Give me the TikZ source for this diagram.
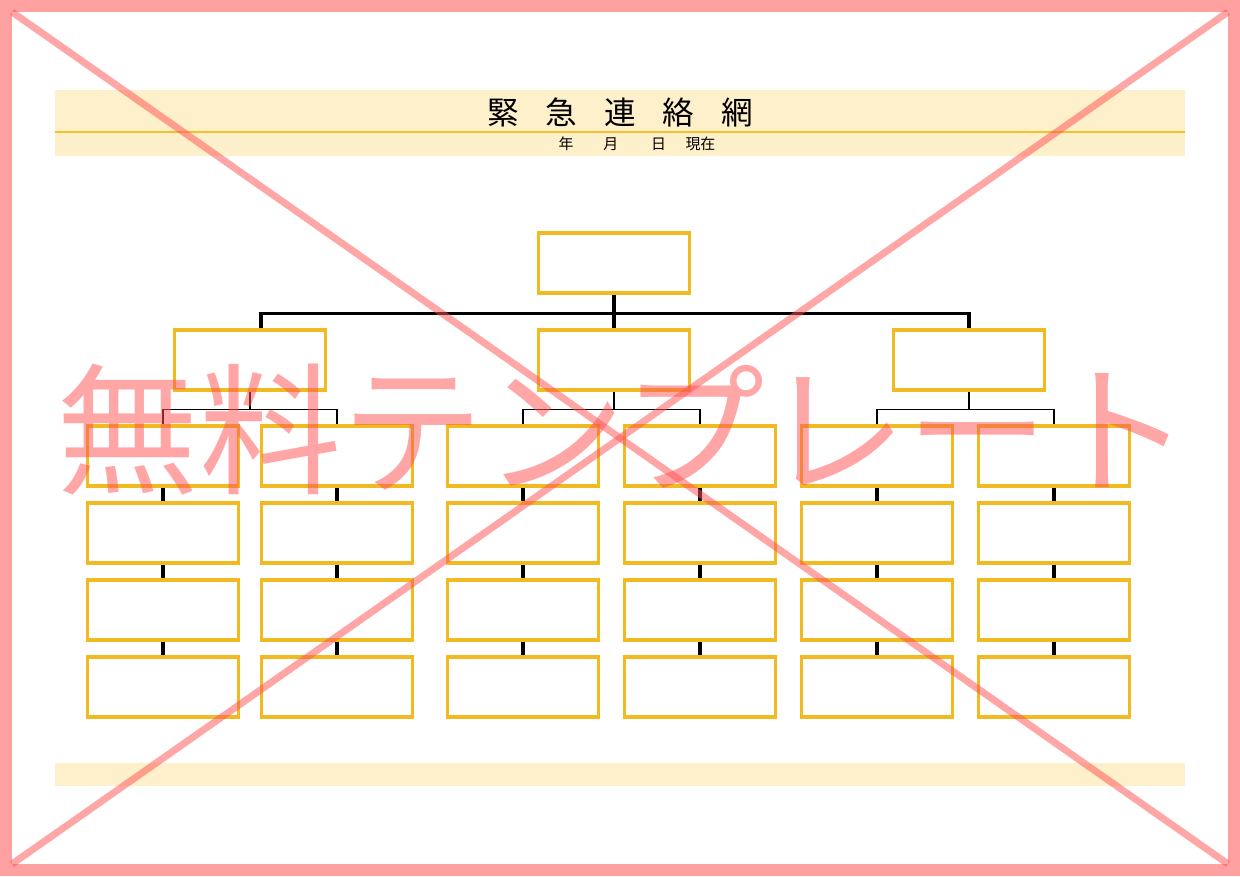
\documentclass[tikz,border=0pt]{standalone}
\usepackage{fontspec}
\newfontfamily\cjk{Noto Sans CJK JP}
\usepackage{tikz}

\definecolor{boxgold}{RGB}{240,186,32}
\definecolor{bandfill}{RGB}{255,240,204}
\definecolor{bandline}{RGB}{242,194,40}
\definecolor{markpink}{RGB}{255,84,84}

\tikzset{
  memberbox/.style={draw=boxgold, line width=0.07cm, fill=white,
    minimum width=3.02cm, minimum height=1.2cm, inner sep=0pt},
  trunk/.style={line width=0.065cm, black},
  branch/.style={line width=0.025cm, black},
  watermark/.style={markpink, opacity=0.52}
}

\begin{document}
\begin{tikzpicture}[x=0.02cm, y=-0.02cm]
    \useasboundingbox (0,0) rectangle (1240,876);
    % header and footer bands
    \fill[bandfill] (55,90) rectangle (1185,156);
    \draw[bandline, line width=0.03cm] (55,132) -- (1185,132);
    \fill[bandfill] (55,763) rectangle (1185,786);
    \node (title) at (620,112) {\cjk\fontsize{18}{18}\selectfont
      緊\hspace{0.85em}急\hspace{0.85em}連\hspace{0.85em}絡\hspace{0.85em}網};
    \node (date) at (637,144) {\cjk\fontsize{8.5}{8.5}\selectfont
      年\hspace{2em}月\hspace{2.2em}日\hspace{1.3em}現在};

    % top and second level
    \node[memberbox] (top) at (614,263) {};
    \node[memberbox] (m1) at (250,360) {};
    \node[memberbox] (m2) at (614,360) {};
    \node[memberbox] (m3) at (969,360) {};

    % six columns of four
    \foreach \c/\x in {1/163,2/337,3/523,4/700,5/877,6/1054} {
      \foreach \r/\y in {1/456,2/533,3/610,4/687}
        \node[memberbox] (c\c r\r) at (\x,\y) {};
      \foreach \r/\s in {1/2,2/3,3/4}
        \draw[trunk] (c\c r\r.south) -- (c\c r\s.north);
    }

    % connectors
    \draw[trunk] (top.south) -- ++(0,19) coordinate (hub);
    \draw[trunk] ([xshift=0.22cm]m1.north) |- (hub) -| (m3.north);
    \draw[trunk] (hub) -- (m2.north);
    \foreach \m/\a/\b in {1/1/2,2/3/4,3/5/6} {
      \draw[branch] (m\m.south) -- ++(0,18) coordinate (h\m);
      \draw[branch] (c\a r1.north) |- (h\m) -| (c\b r1.north);
    }

    % watermark
    \draw[markpink!55!white, line width=0.24cm] (6,6) rectangle (1234,870);
    \begin{scope}[watermark]
      \draw[line width=0.14cm] (12,12) -- (1228,864);
      \draw[line width=0.14cm] (1228,12) -- (12,864);
      \node[text=markpink] (mark) at (624,430) {\cjk\fontsize{81}{81}\selectfont 無料テンプレート};
    \end{scope}
\end{tikzpicture}
\end{document}
